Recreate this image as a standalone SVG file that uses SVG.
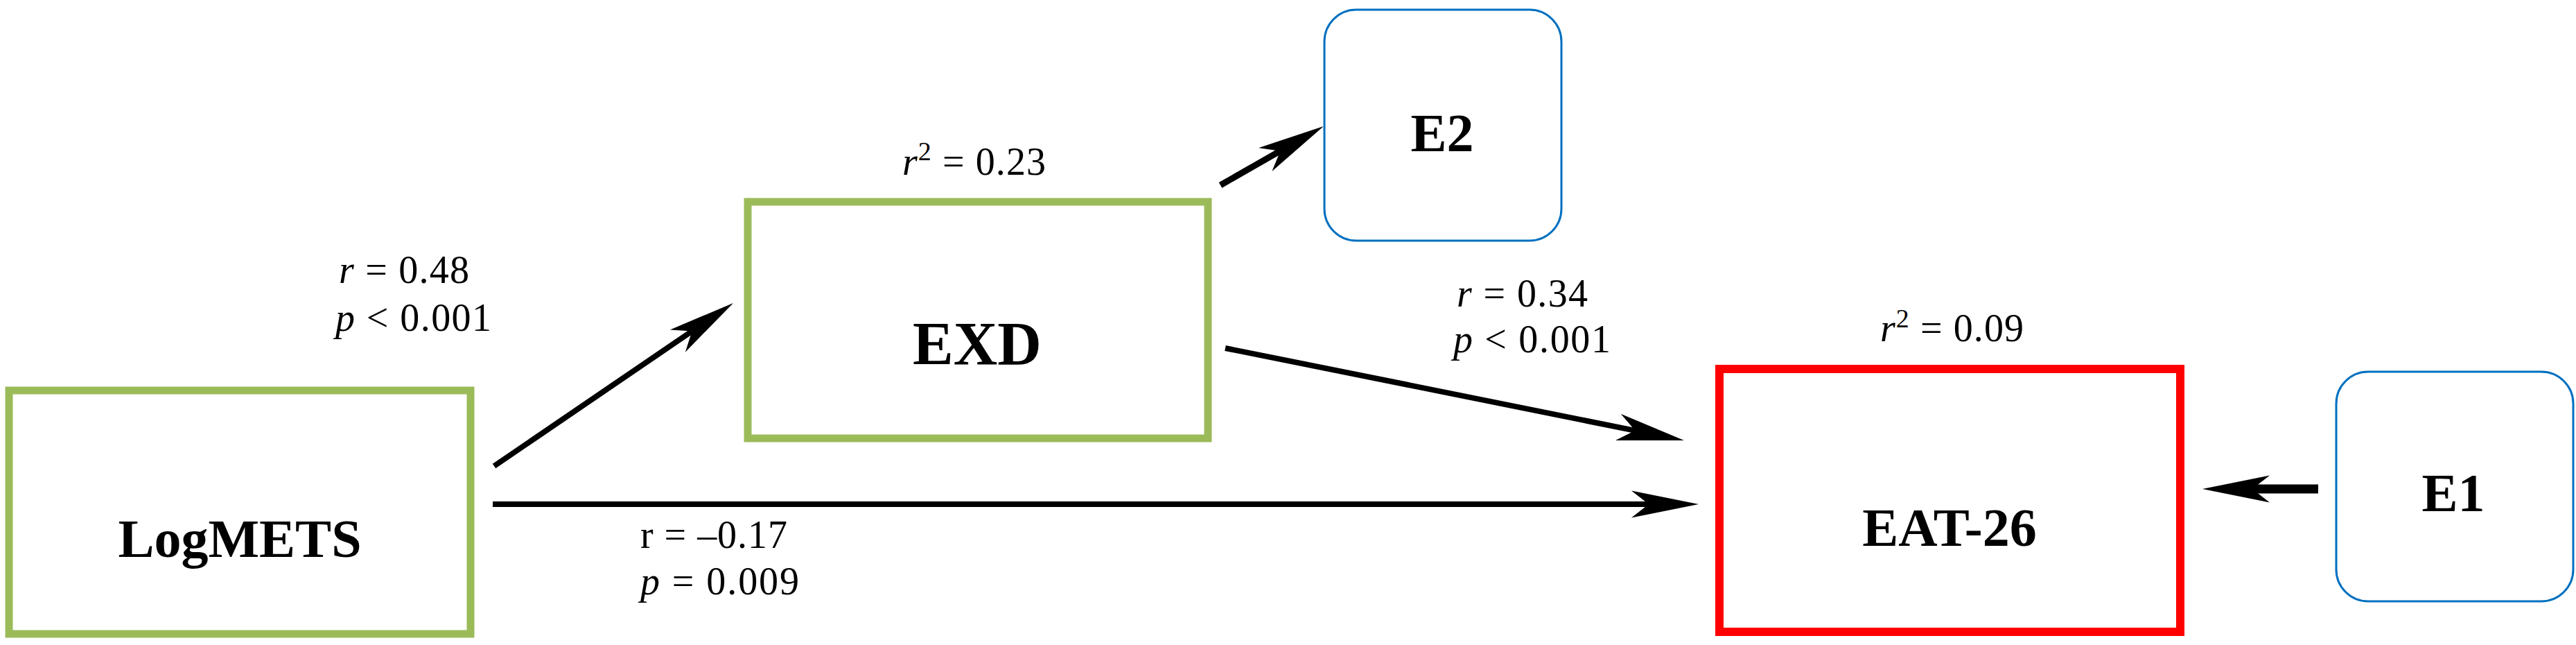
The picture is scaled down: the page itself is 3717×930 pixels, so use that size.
<svg xmlns="http://www.w3.org/2000/svg" width="3717" height="930" viewBox="0 0 3717 930">
<style>
.green{fill:#fff;stroke:#9BBB59;stroke-width:11}
.red{fill:#fff;stroke:#FF0000;stroke-width:12}
.blue{fill:#fff;stroke:#0070C0;stroke-width:3}
.nl{font-family:"Liberation Serif","Times New Roman",serif;font-weight:bold;font-size:78px;fill:#000;text-anchor:middle}
.lb{font-family:"Liberation Serif","Times New Roman",serif;font-size:56px;fill:#000}
.it{font-style:italic}
.sup{font-size:38px}
.conn{stroke:#000;fill:none}
</style>
<defs>
<marker id="ah" viewBox="0 0 100 40" refX="28" refY="20" markerWidth="100" markerHeight="40" markerUnits="userSpaceOnUse" orient="auto">
<path d="M100,20 L3,0.5 L28,20 L3,39.5 Z" fill="#000"/>
</marker>
</defs>
<rect width="3717" height="930" fill="#fff"/>
<g id="connectors">
<line class="conn" x1="713" y1="672" x2="998.5" y2="477.5" stroke-width="8" marker-end="url(#ah)"/>
<line class="conn" x1="1761" y1="267" x2="1847.4" y2="217.7" stroke-width="9" marker-end="url(#ah)"/>
<line class="conn" x1="1768" y1="502" x2="2359.4" y2="620.8" stroke-width="8" marker-end="url(#ah)"/>
<line class="conn" x1="711" y1="727" x2="2379" y2="727" stroke-width="8" marker-end="url(#ah)"/>
<line class="conn" x1="3345" y1="705" x2="3250" y2="705" stroke-width="13" marker-end="url(#ah)"/>
</g>
<g id="labels">
<text class="lb" x="489" y="408" textLength="188" lengthAdjust="spacing" xml:space="preserve"><tspan class="it">r</tspan> = 0.48</text>
<text class="lb" x="484" y="477" textLength="225" lengthAdjust="spacing" xml:space="preserve"><tspan class="it">p</tspan> &lt; 0.001</text>
<text class="lb" x="1302" y="252" textLength="207" lengthAdjust="spacing" xml:space="preserve"><tspan class="it">r</tspan><tspan class="sup" dy="-21">2</tspan><tspan dy="21"> = 0.23</tspan></text>
<text class="lb" x="2102" y="442" textLength="189" lengthAdjust="spacing" xml:space="preserve"><tspan class="it">r</tspan> = 0.34</text>
<text class="lb" x="2097" y="508" textLength="227" lengthAdjust="spacing" xml:space="preserve"><tspan class="it">p</tspan> &lt; 0.001</text>
<text class="lb" x="2713" y="492" textLength="207" lengthAdjust="spacing" xml:space="preserve"><tspan class="it">r</tspan><tspan class="sup" dy="-20">2</tspan><tspan dy="20"> = 0.09</tspan></text>
<text class="lb" x="924" y="790" textLength="212" lengthAdjust="spacing" xml:space="preserve">r = –0.17</text>
<text class="lb" x="924" y="857" textLength="229" lengthAdjust="spacing" xml:space="preserve"><tspan class="it">p</tspan> = 0.009</text>
</g>
<g id="node-logmets">
<rect class="green" x="13" y="563" width="666" height="351"/>
<text class="nl" x="346" y="803">LogMETS</text>
</g>
<g id="node-exd">
<rect class="green" x="1079" y="291" width="664" height="341"/>
<text class="nl" x="1410" y="525" style="font-size:88px">EXD</text>
</g>
<g id="node-e2">
<rect class="blue" x="1911" y="14" width="342" height="333" rx="46" ry="46"/>
<text class="nl" x="2081" y="218">E2</text>
</g>
<g id="node-eat26">
<rect class="red" x="2481" y="532" width="665" height="379"/>
<text class="nl" x="2813" y="787">EAT-26</text>
</g>
<g id="node-e1">
<rect class="blue" x="3371" y="536" width="342" height="331" rx="46" ry="46"/>
<text class="nl" x="3540" y="737">E1</text>
</g>
</svg>
